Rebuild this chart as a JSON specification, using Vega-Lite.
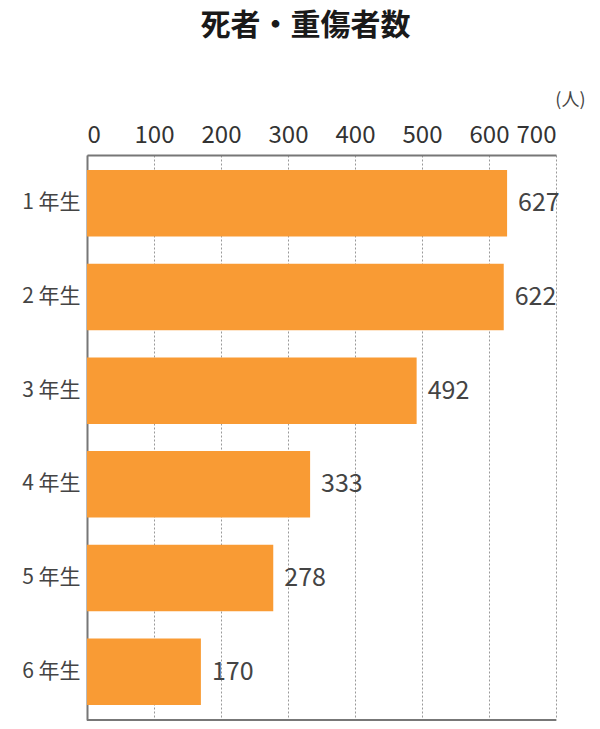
{
  "$schema": "https://vega.github.io/schema/vega-lite/v6.json",
  "width": 469,
  "height": 565,
  "autosize": {"type": "none"},
  "padding": {"left": 87, "top": 155, "right": 44, "bottom": 9},
  "background": "white",
  "title": {
    "text": "死者・重傷者数",
    "fontSize": 30,
    "fontWeight": "bold",
    "font": "Noto Sans CJK JP",
    "color": "#1a1a1a",
    "anchor": "middle",
    "dx": -16,
    "offset": 50
  },
  "config": {
    "view": {"stroke": null},
    "font": "Noto Sans CJK JP"
  },
  "data": {
    "values": [
      {"grade": "1 年生", "count": 627},
      {"grade": "2 年生", "count": 622},
      {"grade": "3 年生", "count": 492},
      {"grade": "4 年生", "count": 333},
      {"grade": "5 年生", "count": 278},
      {"grade": "6 年生", "count": 170}
    ]
  },
  "encoding": {
    "y": {
      "field": "grade",
      "type": "nominal",
      "sort": null,
      "scale": {"paddingInner": 0.29, "paddingOuter": 0.16},
      "axis": {
        "title": null,
        "ticks": false,
        "labelFontSize": 21,
        "labelColor": "#444444",
        "labelPadding": 7,
        "domainColor": "#777777",
        "domainWidth": 2
      }
    },
    "x": {
      "field": "count",
      "type": "quantitative",
      "scale": {"domain": [0, 700], "nice": false},
      "axis": {
        "orient": "top",
        "values": [0, 100, 200, 300, 400, 500, 600, 700],
        "title": "(人)",
        "titleFontSize": 18,
        "titleFontWeight": "normal",
        "titleColor": "#444444",
        "titleX": 498,
        "titleY": -55,
        "titleAlign": "right",
        "titleBaseline": "middle",
        "titleAngle": 0,
        "ticks": false,
        "labelFontSize": 24,
        "labelColor": "#333333",
        "labelPadding": 8,
        "domainColor": "#777777",
        "domainWidth": 2,
        "grid": true,
        "gridColor": "#999999",
        "gridDash": [2, 2],
        "gridWidth": 1
      }
    }
  },
  "layer": [
    {
      "mark": {"type": "bar", "color": "#f99b34"}
    },
    {
      "mark": {
        "type": "text",
        "align": "left",
        "baseline": "middle",
        "dx": 11,
        "fontSize": 25,
        "color": "#444444"
      },
      "encoding": {
        "text": {"field": "count", "type": "quantitative"}
      }
    },
    {
      "mark": {"type": "rule", "color": "#777777", "strokeWidth": 2},
      "data": {"values": [{"x0": 0, "x1": 700}]},
      "encoding": {
        "x": {"field": "x0", "type": "quantitative"},
        "x2": {"field": "x1"},
        "y": {"value": 565}
      }
    }
  ]
}
